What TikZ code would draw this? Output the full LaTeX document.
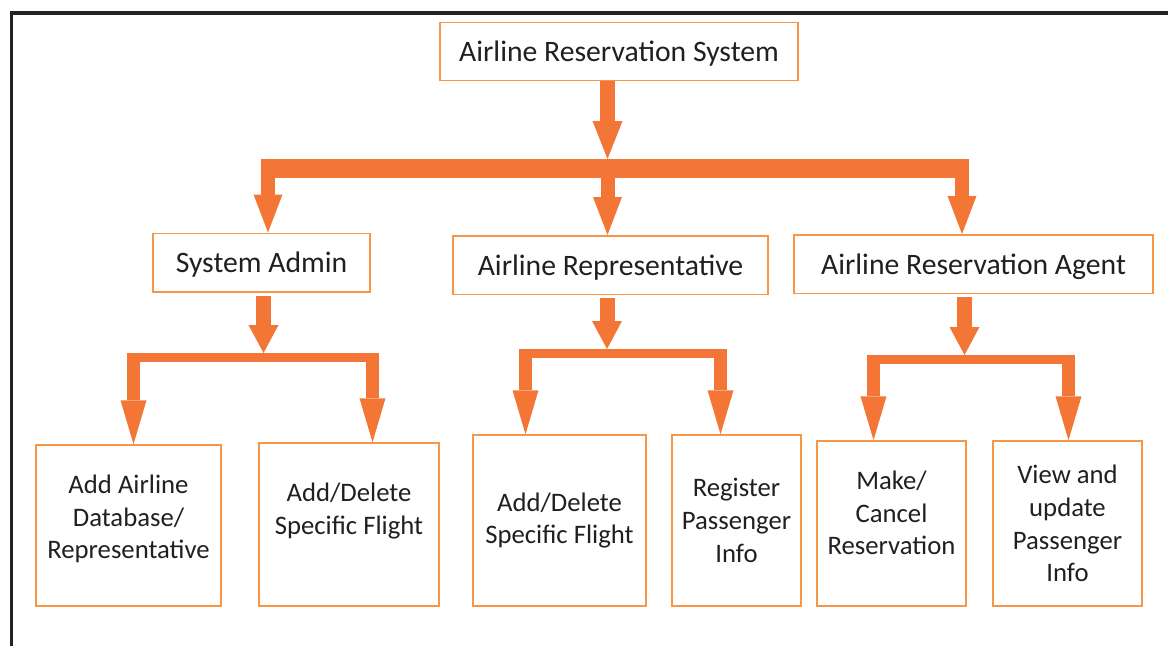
\documentclass[tikz,border=0pt]{standalone}
\usepackage{fontspec}
\setmainfont{Carlito}
\usetikzlibrary{arrows.meta}
\definecolor{arrclr}{RGB}{243,118,54}
\definecolor{boxbdr}{RGB}{247,150,70}
\definecolor{txtclr}{RGB}{35,31,32}
\definecolor{frmclr}{RGB}{35,35,35}
\tikzset{
  hblk/.style={rectangle,draw=boxbdr,line width=0.03cm,fill=white,
    font=\fontsize{16.9}{20}\selectfont,text=txtclr,inner sep=0pt,
    text depth=0pt,minimum height=1.17cm},
  tblk/.style={rectangle,draw=boxbdr,line width=0.03cm,fill=white,
    font=\fontsize{15.2}{18.6}\selectfont,text=txtclr,align=center,inner sep=0pt},
  farr/.style={line width=0.3cm,draw=arrclr,
    -{Triangle[width=0.6cm,length=#1,line width=0pt]}},
  hbar/.style 2 args={line width=#1,draw=arrclr,shorten <=-#2,shorten >=-#2},
  barr/.style={line width=0.28cm,draw=arrclr,
    -{Triangle[width=0.58cm,length=0.76cm,line width=0pt]}},
  sarr/.style={line width=0.26cm,draw=arrclr,
    -{Triangle[width=0.52cm,length=0.88cm,line width=0pt]}},
}
\begin{document}
\begin{tikzpicture}[x=0.02cm,y=-0.02cm]
  \useasboundingbox (0,0) rectangle (1168,646);
  \draw[frmclr,line width=0.07cm] (11.5,646) -- (11.5,13) -- (1168,13);

  \node[hblk,minimum width=7.16cm] (ars) at (619,51.5)   {Airline Reservation System};
  \node[hblk,minimum width=4.34cm] (sa)  at (261.5,262.5) {System Admin};
  \node[hblk,minimum width=6.3cm]  (rep) at (610.5,265)  {Airline Representative};
  \node[hblk,minimum width=7.18cm] (agt) at (973.5,264)  {Airline Reservation Agent};

  \node[tblk,minimum width=3.7cm,minimum height=3.22cm,text depth=0.34cm] (l1) at (128.5,525.5) {Add Airline\\Database/\\Representative};
  \node[tblk,minimum width=3.6cm,minimum height=3.26cm,text depth=0.64cm] (l2) at (349,524.5) {Add/Delete\\Specific Flight};
  \node[tblk,minimum width=3.46cm,minimum height=3.42cm] (l3) at (559.5,520.5) {Add/Delete\\Specific Flight};
  \node[tblk,minimum width=2.58cm,minimum height=3.42cm] (l4) at (736.5,520.5) {Register\\Passenger\\Info};
  \node[tblk,minimum width=2.98cm,minimum height=3.3cm,text depth=0.42cm] (l5) at (891.5,523.5) {Make/\\Cancel\\Reservation};
  \node[tblk,minimum width=2.98cm,minimum height=3.3cm]  (l6) at (1067.5,523.5) {View and\\update\\Passenger\\Info};

  % first level
  \coordinate (j0) at (607.5,168.5);
  \coordinate (b1) at (268,168.5);
  \coordinate (b3) at (962,168.5);
  \draw[farr=0.76cm,shorten >=0.19cm] (ars.south -| j0) -- (j0);
  \draw[hbar={0.38cm}{0.14cm}] (b1) -- (b3);
  \foreach \b/\n in {b1/sa,j0/rep,b3/agt}
    \draw[barr] (\b) -- (\b |- \n.north);

  % second level
  \foreach \p/\jx/\jy/\lx/\rx/\a/\c in {sa/263.5/357.5/133.5/372.5/l1/l2,
      rep/607/353.5/525.5/720.5/l3/l4,agt/964.5/359.5/873.5/1068.5/l5/l6}{
    \coordinate (j) at (\jx,\jy);
    \coordinate (bl) at (\lx,\jy);
    \coordinate (br) at (\rx,\jy);
    \draw[farr=0.56cm,shorten <=0.06cm,shorten >=0.09cm] (\p.south -| j) -- (j);
    \draw[hbar={0.18cm}{0.13cm}] (bl) -- (br);
    \draw[sarr] (bl) -- (bl |- \a.north);
    \draw[sarr] (br) -- (br |- \c.north);
  }
\end{tikzpicture}
\end{document}
